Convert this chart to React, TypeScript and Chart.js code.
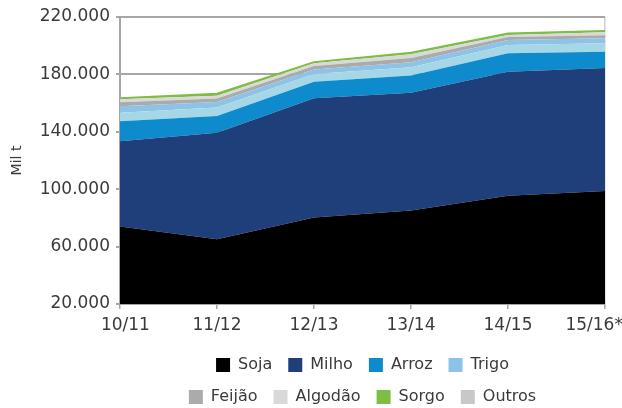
import React, { useEffect, useRef } from "react";
import { Chart, registerables } from "chart.js";

Chart.register(...registerables);

const categories = ["10/11", "11/12", "12/13", "13/14", "14/15", "15/16*"];
const seriesNames = ["Soja", "Milho", "Arroz", "Trigo", "Feijão", "Algodão", "Sorgo", "Outros"];
const soja = [74000, 65200, 80300, 85100, 95400, 98700];
const milho = [59500, 74200, 83000, 82100, 86500, 85800];
const arroz = [13800, 11600, 11600, 12100, 12800, 11300];
const trigo = [5900, 5900, 5400, 5700, 5800, 5900];
const feijao = [4600, 3900, 3200, 3500, 3500, 3500];
const algodao = [2800, 2400, 2400, 2900, 2000, 2000];
const sorgo = [2000, 2000, 1800, 2600, 1500, 2100];
const outros = [900, 1500, 900, 1200, 1100, 1100];
const seriesValues = [soja, milho, arroz, trigo, feijao, algodao, sorgo, outros];
const fillColors = ["#000000", "#1F3F7A", "#0E8BCD", "#A6D7E6", "#8DC3E6", "#ABABAB", "#D9D9D9", "#7DBE45"];
const legendColors = ["#000000", "#1F3F7A", "#0E8BCD", "#8DC3E8", "#ABABAB", "#D9D9D9", "#7DBE45", "#C8C8C8"];
const yTicks = { min: 20000, max: 220000, step: 40000 };

const fmt = (v: number) => Math.round(v).toString().replace(/\B(?=(\d{3})+(?!\d))/g, ".");

export default function App() {
  const ref = useRef<HTMLCanvasElement | null>(null);
  useEffect(() => {
    if (!ref.current) return;
    Chart.defaults.font.family = "'DejaVu Sans'";
    Chart.defaults.color = "#3A3A3A";
    const last = categories.length - 1;
    const chart = new Chart(ref.current, {
      type: "line",
      data: {
        labels: categories,
        datasets: seriesNames.map((name, i) => ({
          label: name,
          data: seriesValues[i],
          backgroundColor: fillColors[i],
          borderColor: fillColors[i],
          borderWidth: i === seriesNames.length - 1 ? 1.5 : 0,
          pointRadius: 0,
          tension: 0,
          fill: i === 0 ? "start" : "-1",
        })),
      },
      options: {
        responsive: false,
        animation: false,
        layout: { padding: { top: 17, right: 17, left: 0, bottom: 0 } },
        scales: {
          x: {
            offset: false,
            border: { color: "#A6A6A6", width: 2 },
            grid: {
              drawOnChartArea: true,
              color: (ctx: any) => (ctx.index === last ? "#CFCFCF" : "rgba(0,0,0,0)"),
              tickColor: "#A6A6A6",
              tickLength: 5,
              lineWidth: 1.5,
            },
            ticks: {
              autoSkip: false,
              maxRotation: 0,
              padding: 6,
              font: { size: 17 },
              color: "#3A3A3A",
              callback: (v: any, i: number) => {
                const s = categories[i];
                if (i === 0) return "\u0020\u0020" + s;
                if (i === last) return s + "\u0020\u0020\u0020\u0020";
                return s;
              },
            },
            afterFit: (s: any) => {
              s.height = 37;
              s.paddingLeft = 0;
              s.paddingRight = 0;
            },
          },
          y: {
            stacked: true,
            min: yTicks.min,
            max: yTicks.max,
            border: { color: "#A6A6A6", width: 2 },
            grid: { color: "#A6A6A6", lineWidth: 2, tickLength: 4, tickColor: "#A6A6A6" },
            ticks: { stepSize: yTicks.step, padding: 6, font: { size: 17 }, color: "#3A3A3A", callback: (v: any) => fmt(Number(v)) },
            title: { display: true, text: "Mil t", font: { size: 14 }, color: "#3A3A3A", padding: { top: 9, bottom: 0 } },
            afterFit: (s: any) => {
              s.width = 120;
            },
          },
        },
        plugins: {
          tooltip: { enabled: false },
          legend: {
            position: "bottom",
            fullSize: false,
            labels: {
              boxWidth: 14,
              boxHeight: 14,
              padding: 16,
              font: { size: 16 },
              color: "#3A3A3A",
              generateLabels: (c: any) =>
                c.data.datasets.map((d: any, i: number) => ({
                  text: d.label,
                  fillStyle: legendColors[i],
                  strokeStyle: legendColors[i],
                  lineWidth: 0,
                  hidden: false,
                  datasetIndex: i,
                  fontColor: "#3A3A3A",
                })),
            },
          },
        },
      },
      plugins: [
        {
          id: "legendFit",
          afterInit(c: any) {
            const lg = c.legend;
            if (!lg) return;
            const orig = lg.update.bind(lg);
            lg.update = (w: number, h: number, m: any) => {
              orig(Math.min(w, 400), h, m);
              lg.height = 67;
            };
          },
          afterLayout(c: any) {
            const lg = c.legend;
            if (!lg) return;
            const cx = (c.chartArea.left + c.chartArea.right) / 2;
            lg.left = cx - 200;
            lg.right = cx + 200;
            lg.width = 400;
          },
        },
      ],
    } as any);
    return () => chart.destroy();
  }, []);
  return (
    <div style={{ position: "fixed", left: 0, top: 0, width: 622, height: 408, background: "#fff" }}>
      <canvas ref={ref} width={622} height={408} style={{ display: "block" }} />
    </div>
  );
}
